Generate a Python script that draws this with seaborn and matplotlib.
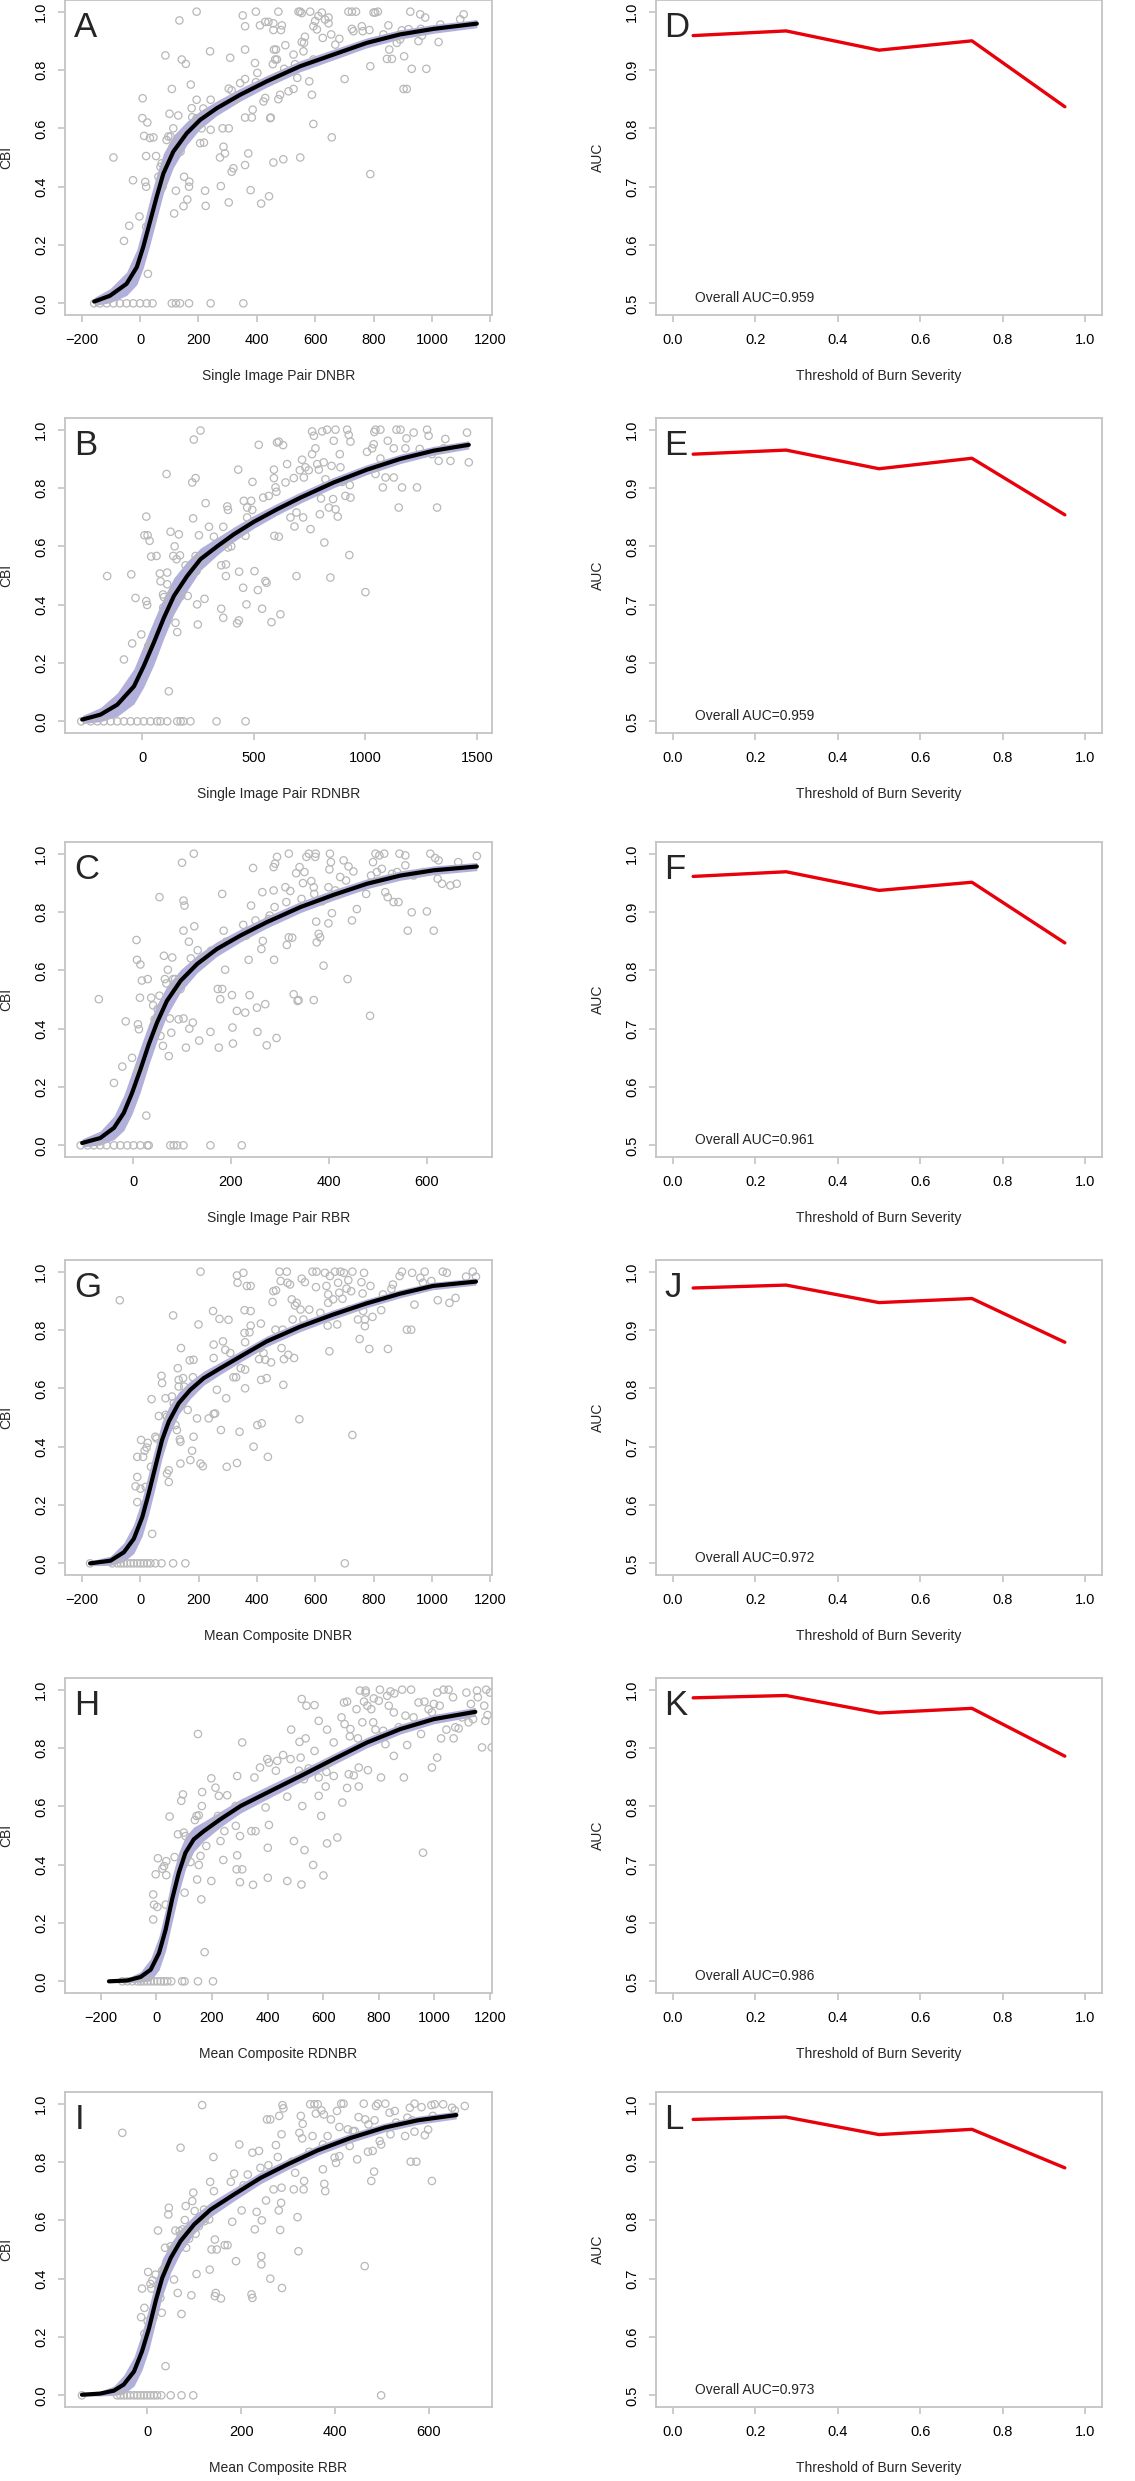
import seaborn as sns
import matplotlib.pyplot as plt
import pandas as pd

sns.set_theme(style='white')
plt.rcParams['font.family'] = ['Liberation Sans', 'DejaVu Sans']

# ---------------- right column: AUC vs threshold ----------------
thresholds = [0.05, 0.275, 0.5, 0.725, 0.95]
auc_d = [0.959, 0.967, 0.934, 0.950, 0.837]
auc_e = [0.958, 0.965, 0.933, 0.951, 0.854]
auc_f = [0.961, 0.969, 0.937, 0.951, 0.847]
auc_j = [0.972, 0.977, 0.947, 0.954, 0.879]
auc_k = [0.986, 0.990, 0.960, 0.968, 0.886]
auc_l = [0.973, 0.977, 0.947, 0.956, 0.890]
overall_auc = ['0.959', '0.959', '0.961', '0.972', '0.986', '0.973']

# ---------------- left column: CBI vs spectral index ----------------
# plots with CBI = 0 (x only)
a_zero = [-157, -137, -114, -91, -69, -46, -23, 0, 23, 43, 109, 123, 137, 168, 242, 354]
b_zero = [-273, -231, -201, -172, -142, -112, -82, -52, -22, 7, 37, 67, 82, 112, 157, 172, 184, 216, 333, 463]
c_zero = [-107, -93, -80, -67, -54, -39, -26, -12, 1, 15, 29, 32, 76, 83, 90, 103, 158, 222]
g_zero = [-173, -97, -80, -68, -57, -46, -34, -23, -11, 0, 11, 23, 34, 51, 72, 112, 154, 701]
h_zero = [-122, -104, -86, -68, -56, -44, -32, -20, -8, 4, 16, 28, 40, 54, 93, 102, 150, 204]
i_zero = [-139, -64, -57, -50, -43, -36, -28, -21, -14, -7, 0, 7, 14, 21, 30, 50, 73, 98, 498]

a_pts = [(-91,.50),(-55,.214),(-37,.266),(-24,.422),(-2,.298),(9,.703),(8,.635),(14,.574),(18,.416),(21,.40),
         (21,.262),(25,.62),(21,.505),(27,.101),(34,.567),(46,.569),(55,.505),(63,.434),(70,.468),(74,.48),
         (77,.40),(78,.434),(87,.85),(91,.56),(97,.572),(101,.65),(105,.572),(109,.735),(112,.537),(114,.60),
         (117,.308),(123,.386),(131,.644),(135,.97),(139,.52),(143,.836),(145,.572),(149,.333),(151,.434),(157,.821),
         (162,.356),(168,.40),(169,.417),(174,.75),(177,.669),(179,.638),(194,1.0),(194,.698),(194,.635),(206,.549),
         (211,.60),(217,.668),(219,.551),(223,.386),(225,.334),(240,.864),(242,.698),(242,.595),(274,.50),(277,.402),
         (283,.60),(286,.537),(291,.514),(304,.736),(304,.60),(304,.346),(309,.842),(314,.73),(314,.451),(320,.463),
         (326,.698),(343,.755),(352,.987),(360,.87),(360,.95),(360,.769),(360,.637),(360,.474),(371,.514),(379,.388),
         (383,.637),(386,.664),(394,.824),(397,1.0),(397,.758),(402,.79),(411,.953),(415,.342),(423,.692),(429,.704),
         (429,.965),(440,.965),(442,.367),(446,.635),(448,.637),(455,.82),(457,.96),(457,.937),(457,.483),(459,.87),
         (463,.836),(466,.87),(469,.836),(471,.778),(474,1.0),(474,.70),(480,.715),(483,.937),(486,.953),(491,.494),
         (494,.804),(498,.885),(509,.727),(526,.853),(526,.735),(531,.82),(539,.773),(543,1.0),(549,1.0),(549,.50),
         (554,.995),(554,.896),(560,.864),(562,.893),(565,.914),(580,.761),(583,1.0),(589,.715),(594,.615),(594,.95),
         (594,.836),(600,.968),(606,.939),(611,.985),(623,.997),(626,.91),(634,.973),(646,.98),(646,.96),(655,.922),
         (657,.569),(669,.887),(683,.907),(701,.769),(714,1.0),(726,1.0),(726,.941),(731,.933),(740,1.0),(760,.95),
         (763,.933),(786,.937),(789,.813),(789,.443),(800,.997),(806,.997),(815,1.0),(834,.922),(846,.838),(851,.953),
         (854,.87),(863,.838),(880,.893),(891,.905),(897,.936),(903,.735),(905,.847),(914,.735),(920,.94),(926,1.0),
         (931,.804),(954,.899),(960,.991),(962,.941),(966,.918),(977,.98),(981,.804),(1023,.896),(1029,.956),(1097,.974),
         (1109,.991)]

b_pts = [(-157,.498),(-82,.212),(-49,.504),(-45,.267),(-30,.423),(-4,.298),(10,.638),(18,.702),(18,.412),(22,.399),
         (24,.638),(27,.258),(33,.619),(37,.263),(40,.565),(64,.567),(79,.507),(82,.48),(93,.435),(94,.39),
         (97,.426),(109,.848),(112,.51),(112,.47),(119,.103),(119,.372),(127,.65),(130,.435),(139,.567),(145,.60),
         (149,.338),(154,.556),(157,.306),(164,.641),(169,.569),(175,.43),(194,.535),(204,.43),(224,.819),(228,.696),
         (231,.966),(239,.834),(239,.567),(243,.515),(246,.401),(249,.332),(254,.638),(261,.997),(261,.55),(279,.42),
         (284,.748),(299,.667),(321,.633),(354,.386),(354,.535),(363,.667),(363,.355),(375,.498),(375,.538),(381,.737),
         (384,.725),(384,.596),(399,.60),(425,.336),(433,.346),(430,.863),(434,.513),(452,.458),(455,.756),(463,.636),
         (470,.733),(467,.401),(470,.699),(488,.756),(493,.725),(494,.821),(503,.515),(518,.45),(522,.948),(537,.386),
         (542,.767),(552,.481),(557,.475),(567,.773),(579,.34),(590,.863),(590,.834),(592,.636),(597,.802),(601,.787),
         (604,.956),(612,.959),(612,.633),(619,.367),(631,.947),(642,.819),(649,.882),(664,.699),(679,.834),(682,.668),
         (691,.498),(691,.716),(706,.861),(716,.897),(721,.699),(724,.836),(731,.871),(746,.861),(754,.659),(761,.994),
         (761,.916),(769,.979),(776,.936),(784,.882),(791,.863),(796,.71),(801,.764),(806,.994),(813,.888),(816,.613),
         (821,.83),(828,1.0),(836,.733),(843,.493),(848,.876),(855,.762),(858,.962),(866,1.0),(866,.727),(876,.702),
         (885,.916),(888,.871),(896,.821),(910,.773),(918,1.0),(925,.982),(928,.57),(930,.81),(933,.767),(933,.959),
         (1000,.443),(1007,.924),(1030,.936),(1037,.95),(1040,.992),(1045,1.0),(1045,.848),(1067,1.0),(1067,.901),(1078,.802),
         (1090,.836),(1100,.962),(1127,.836),(1127,.936),(1139,1.0),(1149,.733),(1157,1.0),(1164,.802),(1179,.936),(1184,.97),
         (1216,.99),(1231,.802),(1243,.934),(1276,1.0),(1283,.979),(1298,.916),(1321,.733),(1328,.893),(1351,.936),(1358,.968),
         (1381,.893),(1455,.99),(1463,.888)]

c_pts = [(-70,.501),(-39,.214),(-22,.27),(-15,.425),(-2,.30),(7,.704),(8,.636),(10,.415),(12,.398),(12,.26),
         (15,.266),(15,.62),(14,.506),(18,.565),(27,.102),(30,.57),(37,.506),(41,.48),(44,.432),(46,.421),
         (48,.392),(50,.467),(54,.851),(54,.513),(56,.375),(61,.341),(63,.65),(65,.57),(68,.555),(71,.602),
         (73,.306),(75,.435),(78,.386),(80,.644),(82,.57),(83,.536),(86,.57),(93,.432),(97,.536),(100,.969),
         (103,.736),(103,.435),(103,.839),(105,.822),(108,.335),(114,.698),(115,.40),(118,.641),(122,.421),(124,1.0),
         (125,.751),(132,.669),(135,.359),(143,.636),(158,.389),(159,.667),(173,.536),(175,.335),(178,.501),(182,.536),
         (182,.862),(185,.736),(188,.602),(190,.698),(202,.515),(203,.404),(204,.349),(212,.461),(225,.756),(229,.455),
         (231,.719),(236,.636),(238,.515),(241,.822),(245,.951),(250,.771),(253,.472),(254,.389),(262,.673),(264,.868),
         (265,.701),(270,.484),(273,.343),(277,.776),(279,.788),(287,.874),(287,.954),(288,.636),(289,.817),(290,.966),
         (293,.368),(294,.989),(311,.885),(313,.834),(314,.687),(318,1.0),(318,.713),(321,.872),(325,.712),(328,.518),
         (333,.933),(336,.495),(338,.498),(340,.954),(344,.845),(347,.899),(350,.937),(354,.989),(359,1.0),(364,.906),
         (369,.498),(369,.885),(370,.862),(372,.989),(373,1.0),(374,.767),(375,.696),(379,.725),(382,.713),(386,.837),
         (389,.616),(399,.761),(399,.885),(401,.946),(402,1.0),(404,.971),(406,.796),(413,.874),(418,.859),(423,.92),
         (430,.977),(435,.908),(438,.57),(440,.956),(447,.771),(450,.939),(457,.81),(476,.862),(484,.444),(486,.925),
         (490,.971),(495,1.0),(498,.937),(503,.994),(505,.905),(508,.948),(513,1.0),(515,.868),(520,.851),(529,.931),
         (532,.834),(539,.937),(542,.834),(544,1.0),(556,.994),(556,.96),(561,.736),(569,.799),(573,.925),(593,.937),
         (600,.802),(607,1.0),(614,.736),(617,.985),(622,.914),(631,.897),(624,.977),(648,.891),(661,.897),(664,.971),
         (702,.992)]

g_pts = [(-71,.902),(-17,.264),(-11,.365),(-11,.296),(-11,.21),(0,.256),(2,.423),(9,.365),(14,.386),(18,.262),
         (21,.397),(25,.413),(36,.331),(38,.563),(40,.101),(43,.285),(51,.434),(55,.428),(63,.505),(72,.643),
         (74,.618),(86,.566),(86,.509),(91,.503),(91,.308),(97,.279),(97,.319),(108,.572),(112,.85),(114,.549),
         (120,.474),(125,.457),(128,.669),(131,.629),(131,.606),(135,.425),(137,.417),(137,.342),(139,.738),(143,.549),
         (146,.635),(150,.606),(162,.526),(169,.696),(171,.354),(177,.386),(180,.638),(182,.698),(182,.434),(194,.497),
         (199,.819),(206,1.0),(206,.342),(214,.333),(234,.497),(249,.865),(251,.75),(251,.704),(251,.512),(256,.514),
         (262,.595),(271,.838),(276,.457),(283,.761),(291,.732),(294,.566),(296,.331),(302,.835),(308,.721),(319,.638),
         (328,.638),(331,.987),(331,.344),(333,.962),(340,.451),(344,.669),(353,.996),(357,.868),(357,.79),(359,.758),
         (359,.664),(359,.60),(365,.951),(374,.792),(378,.951),(378,.865),(378,.815),(388,.40),(401,.474),(407,.70),
         (410,.738),(413,.822),(414,.629),(416,.48),(422,.721),(428,.698),(433,.635),(437,.365),(448,.689),(453,.896),
         (456,.933),(463,.801),(465,.936),(477,1.0),(481,.968),(484,.738),(488,.801),(490,.612),(492,.70),(502,1.0),
         (504,.962),(507,.715),(513,.956),(519,.905),(522,.836),(527,.704),(530,.884),(536,.893),(545,.494),(549,.87),
         (553,.976),(559,.836),(564,.964),(579,.87),(590,1.0),(602,.947),(604,1.0),(617,.859),(633,.996),(638,.951),
         (642,.815),(644,.922),(644,.893),(648,.727),(650,.985),(661,.905),(667,1.0),(675,.819),(678,.962),(682,.928),
         (686,1.0),(693,.907),(698,.996),(707,.942),(713,.971),(716,.87),(723,.933),(727,1.0),(727,.44),(746,.836),
         (752,.769),(758,.964),(762,.925),(764,.865),(767,.996),(770,.813),(770,.836),(785,.735),(789,.951),(796,.845),
         (826,.868),(832,.922),(849,.735),(861,.941),(866,.956),(889,.985),(897,1.0),(914,.801),(929,.801),(932,.996),
         (940,.887),(960,.979),(969,.962),(975,1.0),(998,.968),(1020,.902),(1037,1.0),(1051,.996),(1060,.893),(1081,.91),
         (1117,.983),(1140,1.0),(1151,.983)]

h_pts = [(-11,.212),(-11,.298),(-8,.263),(-2,.367),(4,.255),(6,.422),(22,.386),(28,.395),(36,.412),(36,.364),
         (34,.263),(48,.565),(66,.426),(78,.504),(90,.619),(96,.641),(97,.432),(99,.51),(102,.304),(105,.498),
         (111,.43),(123,.409),(139,.553),(145,.567),(147,.349),(150,.848),(153,.569),(153,.399),(159,.43),(162,.281),
         (164,.601),(165,.649),(174,.10),(180,.464),(198,.696),(198,.344),(201,.533),(213,.664),(222,.567),(225,.636),
         (231,.481),(241,.416),(245,.515),(255,.638),(285,.601),(286,.533),(289,.384),(291,.432),(291,.704),(301,.498),
         (301,.34),(309,.819),(309,.384),(342,.515),(348,.331),(353,.699),(357,.515),(373,.733),(393,.596),(399,.762),
         (401,.355),(401,.458),(405,.75),(405,.536),(430,.722),(435,.756),(456,.776),(471,.633),(471,.344),(483,.762),
         (485,.863),(495,.481),(513,.722),(515,.821),(519,.767),(523,.968),(525,.601),(522,.332),(531,.693),(533,.45),
         (537,.833),(540,.945),(548,.73),(564,.399),(569,.947),(569,.79),(584,.893),(584,.699),(584,.636),(593,.567),
         (601,.363),(609,.668),(612,.718),(614,.863),(614,.473),(621,.75),(638,.704),(638,.819),(651,.493),(666,.905),
         (669,.613),(675,.956),(677,.882),(686,.959),(686,.663),(692,.71),(696,.84),(698,.865),(710,.706),(720,.933),
         (725,.833),(728,.733),(728,.668),(732,.997),(741,.888),(747,.959),(753,.997),(753,.99),(759,.945),(761,.724),
         (773,.933),(780,.888),(782,.97),(788,.863),(800,.962),(804,1.0),(808,.699),(816,.859),(824,.813),(830,.979),
         (836,.945),(842,.994),(854,.773),(854,.922),(856,.987),(872,.871),(884,1.0),(890,.699),(896,.911),(902,.81),
         (916,1.0),(925,.905),(943,.956),(952,.848),(959,.441),(964,.959),(979,.933),(991,.733),(991,.922),(998,.951),
         (1010,.99),(1010,.767),(1019,.945),(1024,.833),(1033,1.0),(1043,.863),(1051,1.0),(1067,.974),(1069,.833),(1075,.871),
         (1087,.867),(1099,.905),(1115,.99),(1123,.888),(1131,.951),(1139,.899),(1153,.997),(1156,.974),(1171,.802),(1179,.945),
         (1183,.893),(1186,1.0),(1191,.913),(1200,.99),(1206,.802)]

i_pts = [(-53,.90),(-13,.268),(-11,.366),(-6,.30),(-6,.211),(1,.254),(2,.423),(7,.382),(9,.366),(11,.394),
         (13,.265),(18,.414),(23,.565),(28,.334),(31,.283),(32,.428),(36,.435),(38,.506),(39,.10),(41,.435),
         (45,.62),(46,.643),(50,.511),(53,.50),(57,.397),(60,.565),(65,.351),(69,.563),(71,.551),(71,.849),
         (73,.279),(75,.569),(80,.601),(82,.649),(83,.506),(89,.537),(94,.343),(96,.666),(98,.695),(101,.632),
         (103,.554),(105,.416),(110,.58),(117,.995),(121,.637),(122,.597),(132,.603),(133,.431),(134,.732),(137,.50),
         (141,.817),(142,.70),(144,.534),(144,.34),(146,.351),(148,.50),(157,.332),(165,.515),(171,.515),(178,.732),
         (181,.595),(185,.76),(189,.46),(196,.86),(201,.634),(205,.72),(214,.757),(222,.346),(224,.334),(224,.832),
         (229,.569),(233,.629),(238,.838),(241,.78),(243,.477),(243,.449),(244,.60),(253,.668),(255,.946),(258,.789),
         (262,.946),(262,.40),(269,.706),(274,.858),(278,.817),(280,.634),(281,.958),(283,.567),(285,.66),(286,.895),
         (286,.712),(287,.368),(288,.995),(290,.984),(308,.801),(312,.706),(315,.763),(320,.611),(322,.494),(324,.90),
         (327,.958),(330,.881),(331,.931),(333,.706),(334,.735),(345,.835),(347,.998),(352,.889),(356,.998),(359,.966),
         (363,.998),(371,.977),(374,.775),(374,.86),(376,.963),(377,.725),(379,.70),(384,.889),(391,.946),(399,.815),
         (402,.797),(404,.975),(409,.82),(409,.92),(413,1.0),(418,1.0),(427,.912),(431,.855),(438,.906),(442,.906),
         (447,.809),(450,.954),(461,1.0),(463,.443),(464,.946),(470,.835),(471,.929),(477,.735),(480,.838),(483,.767),
         (484,.943),(487,.992),(491,1.0),(495,.872),(498,.86),(507,1.0),(516,.969),(518,.895),(527,.975),(530,.935),
         (549,.889),(554,.952),(559,.986),(561,.801),(564,.943),(569,1.0),(569,.904),(573,.801),(584,.988),(591,.892),
         (598,.911),(605,.995),(606,.735),(608,.958),(612,.998),(630,.998),(649,.986),(655,.977),(676,.992)]

# fitted curves (x, CBI) and half width of the confidence band
a_curve = [(-157,.006),(-103,.026),(-46,.067),(-11,.124),(11,.193),(34,.279),(57,.365),(80,.445),(114,.52),(160,.583),
           (206,.629),(263,.669),(343,.715),(434,.761),(549,.813),(663,.853),(777,.893),(891,.922),(1006,.941),(1154,.959)]
a_band = [.014,.024,.04,.06,.072,.078,.076,.068,.055,.04,.031,.025,.022,.02,.019,.018,.017,.016,.015,.014]

b_curve = [(-269,.006),(-187,.023),(-112,.057),(-37,.12),(7,.19),(52,.27),(97,.355),(142,.43),(201,.498),(261,.556),
           (336,.60),(410,.641),(500,.684),(604,.727),(709,.767),(858,.819),(1007,.863),(1157,.90),(1306,.928),(1463,.948)]
b_band = [.014,.024,.04,.06,.072,.076,.07,.062,.05,.038,.03,.025,.022,.02,.019,.018,.017,.016,.015,.014]

c_curve = [(-104,.008),(-67,.025),(-39,.06),(-19,.111),(-2,.18),(15,.26),(32,.346),(49,.421),(69,.495),(97,.564),
           (131,.622),(171,.673),(219,.719),(273,.765),(342,.817),(410,.859),(478,.897),(546,.925),(614,.943),(702,.956)]
c_band = [.014,.024,.04,.06,.072,.076,.07,.062,.05,.038,.03,.025,.022,.02,.019,.018,.017,.016,.015,.014]

g_curve = [(-173,0.0),(-103,.009),(-57,.038),(-23,.084),(6,.158),(28,.239),(51,.331),(74,.423),(97,.486),(131,.549),
           (171,.595),(217,.635),(274,.669),(353,.715),(433,.761),(547,.811),(661,.853),(775,.891),(889,.924),(1003,.951),
           (1151,.966)]
g_band = [.008,.016,.032,.05,.064,.07,.07,.062,.05,.038,.03,.024,.021,.019,.018,.017,.016,.015,.014,.013,.012]

h_curve = [(-170,0.0),(-104,.003),(-56,.015),(-20,.04),(10,.097),(34,.178),(57,.281),(81,.372),(105,.441),(135,.487),
           (171,.515),(231,.556),(303,.601),(399,.647),(519,.704),(638,.762),(758,.819),(878,.865),(998,.899),(1147,.924)]
h_band = [.004,.008,.018,.038,.058,.072,.078,.07,.056,.042,.033,.027,.024,.022,.02,.019,.018,.017,.016,.015]

i_curve = [(-139,.002),(-100,.006),(-71,.016),(-50,.037),(-28,.082),(-11,.151),(4,.231),(18,.323),(32,.403),(50,.471),
           (71,.529),(100,.586),(135,.637),(185,.689),(242,.746),(299,.792),(363,.84),(434,.883),(505,.918),(576,.943),
           (658,.961)]
i_band = [.004,.008,.016,.032,.05,.064,.072,.072,.064,.05,.04,.031,.025,.022,.02,.018,.017,.016,.015,.014,.013]

left_letters = ['A', 'B', 'C', 'G', 'H', 'I']
right_letters = ['D', 'E', 'F', 'J', 'K', 'L']
left_xlabels = ['Single Image Pair DNBR', 'Single Image Pair RDNBR', 'Single Image Pair RBR',
                'Mean Composite DNBR', 'Mean Composite RDNBR', 'Mean Composite RBR']
left_xlims = [(-257, 1206), (-346, 1567), (-139, 733), (-259, 1206), (-328, 1207), (-175, 734)]
left_xticks = [range(-200, 1201, 200), range(0, 1501, 500), range(0, 601, 200),
               range(-200, 1201, 200), range(-200, 1201, 200), range(0, 601, 200)]

left_data = [(a_pts, a_zero, a_curve, a_band), (b_pts, b_zero, b_curve, b_band),
             (c_pts, c_zero, c_curve, c_band), (g_pts, g_zero, g_curve, g_band),
             (h_pts, h_zero, h_curve, h_band), (i_pts, i_zero, i_curve, i_band)]
right_data = [auc_d, auc_e, auc_f, auc_j, auc_k, auc_l]

GRAY = '#c4c4c4'
PT = '#b8b8b8'
BAND = '#b0b0da'
RED = '#e8000a'

W, H = 1135, 2481
row_tops = [0, 418, 842, 1260, 1678, 2092]
box_h = 315


def style_axes(ax):
    for s in ax.spines.values():
        s.set_visible(True)
        s.set_color(GRAY)
        s.set_linewidth(1.3)
    ax.tick_params(axis='both', direction='out', length=5, width=1.2, color=GRAY,
                   labelcolor='black', labelsize=10.5, bottom=True, left=True)
    ax.tick_params(axis='x', pad=8)
    ax.tick_params(axis='y', pad=7, labelrotation=90)
    for lab in ax.get_yticklabels():
        lab.set_va('center')


fig = plt.figure(figsize=(W / 100, H / 100), dpi=100)

for r in range(6):
    bottom = 1 - (row_tops[r] + box_h) / H

    # ---- left: scatter + fitted curve ----
    ax = fig.add_axes([65 / W, bottom, 427 / W, box_h / H])
    pts, zeros, curve, band = left_data[r]
    df = pd.DataFrame(pts, columns=['x', 'cbi'])
    df = pd.concat([df, pd.DataFrame({'x': zeros, 'cbi': 0.0})], ignore_index=True)
    cx = [p[0] for p in curve]
    cy = [p[1] for p in curve]
    lo = [y - b for y, b in zip(cy, band)]
    hi = [y + b for y, b in zip(cy, band)]
    ax.fill_between(cx, lo, hi, color=BAND, lw=0, zorder=2)
    sns.scatterplot(data=df, x='x', y='cbi', ax=ax, marker='o', s=28,
                    facecolor='none', edgecolor=PT, linewidth=0.9, zorder=3)
    sns.lineplot(x=cx, y=cy, ax=ax, color='black', lw=3, zorder=4,
                 solid_joinstyle='round', solid_capstyle='round')
    ax.set_xlim(*left_xlims[r])
    ax.set_ylim(-0.04, 1.04)
    ax.set_xticks(list(left_xticks[r]))
    ax.set_yticks([0, 0.2, 0.4, 0.6, 0.8, 1.0])
    ax.set_xlabel(left_xlabels[r], fontsize=10, labelpad=16)
    ax.set_ylabel('CBI', fontsize=10, labelpad=15)
    style_axes(ax)
    ax.text(0.022, 0.883, left_letters[r], transform=ax.transAxes, fontsize=25,
            ha='left', va='baseline')

    # ---- right: AUC by threshold ----
    ax2 = fig.add_axes([656 / W, bottom, 446 / W, box_h / H])
    sns.lineplot(x=thresholds, y=right_data[r], ax=ax2, color=RED, lw=2.4)
    ax2.set_xlim(-0.04, 1.04)
    ax2.set_ylim(0.48, 1.02)
    ax2.set_xticks([0, 0.2, 0.4, 0.6, 0.8, 1.0])
    ax2.set_yticks([0.5, 0.6, 0.7, 0.8, 0.9, 1.0])
    ax2.set_xlabel('Threshold of Burn Severity', fontsize=10, labelpad=16)
    ax2.set_ylabel('AUC', fontsize=10, labelpad=15)
    style_axes(ax2)
    ax2.text(0.018, 0.883, right_letters[r], transform=ax2.transAxes, fontsize=25,
             ha='left', va='baseline')
    ax2.text(0.2, 0.51, 'Overall AUC=' + overall_auc[r], fontsize=10,
             ha='center', va='center')

fig.savefig('out.png', dpi=100)
